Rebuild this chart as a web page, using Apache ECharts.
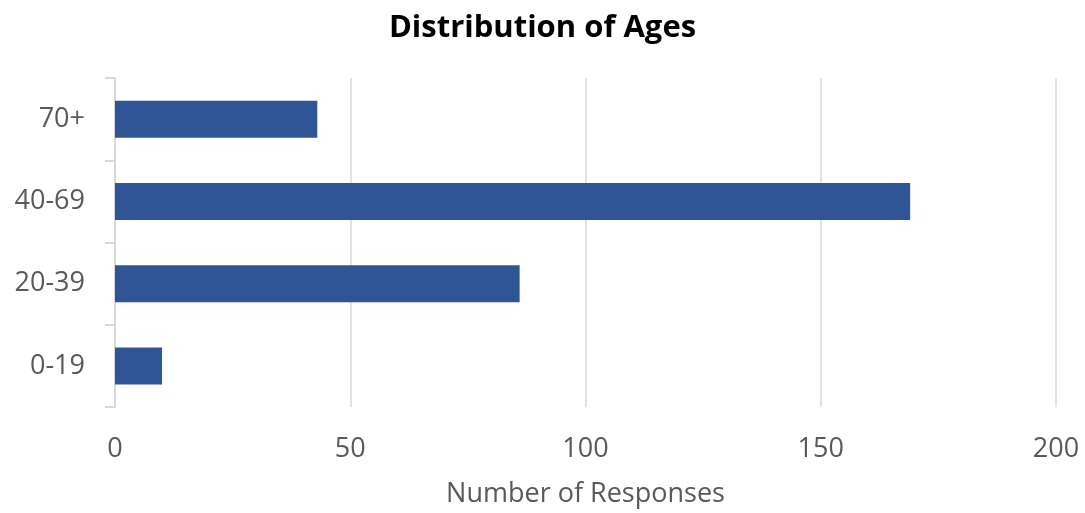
<!DOCTYPE html>
<html>
<head>
<meta charset="utf-8">
<script src="https://cdn.jsdelivr.net/npm/echarts@6/dist/echarts.min.js"></script>
<style>html,body{margin:0;padding:0;background:#fff}#c{width:1085px;height:513px}</style>
</head>
<body>
<div id="c"></div>
<script>
const categories = ['0-19', '20-39', '40-69', '70+'];
const responses = [10, 86, 169, 43];
const xTicks = [0, 50, 100, 150, 200];

const chart = echarts.init(document.getElementById('c'));
const font = '"Open Sans", sans-serif';
chart.setOption({
  animation: false,
  title: {
    text: 'Distribution of Ages',
    left: 'center',
    top: 8,
    textStyle: { fontFamily: font, fontWeight: 'bold', fontSize: 31, color: '#000' }
  },
  grid: { left: 115, right: 29, top: 78, bottom: 106, containLabel: false },
  xAxis: {
    type: 'value',
    min: xTicks[0],
    max: xTicks[xTicks.length - 1],
    interval: 50,
    name: 'Number of Responses',
    nameLocation: 'middle',
    nameGap: 74,
    nameTextStyle: { fontFamily: font, fontSize: 27, color: '#595959' },
    axisLine: { show: false },
    axisTick: { show: false },
    axisLabel: { fontFamily: font, fontSize: 27, color: '#595959', margin: 29 },
    splitLine: { show: true, lineStyle: { color: '#d9d9d9', width: 1.5 } }
  },
  yAxis: {
    type: 'category',
    data: categories,
    axisLine: { show: true, lineStyle: { color: '#d9d9d9', width: 2 } },
    axisTick: { show: true, length: 10, lineStyle: { color: '#d9d9d9', width: 2 } },
    axisLabel: { fontFamily: font, fontSize: 27, color: '#595959', margin: 30 },
    splitLine: { show: false }
  },
  series: [{
    type: 'bar',
    data: responses,
    barWidth: 37,
    itemStyle: { color: '#2f5597' }
  }]
});
</script>
</body>
</html>
